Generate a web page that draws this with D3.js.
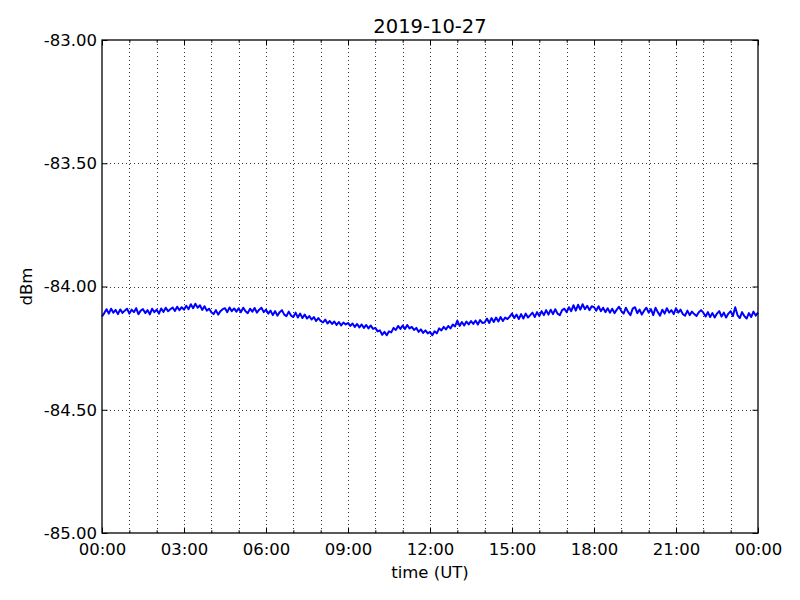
<!DOCTYPE html>
<html><head><meta charset="utf-8">
<script src="https://cdn.jsdelivr.net/npm/d3@7"></script>
<style>body{margin:0;background:#fff}svg{display:block}text{font-family:"DejaVu Sans",sans-serif;fill:#000}</style>
</head><body><div id="chart"></div>
<script>
const title = "2019-10-27";
const xLabel = "time (UT)";
const yLabel = "dBm";
const yTicks = [-85.0, -84.5, -84.0, -83.5, -83.0];
const xTickHours = [0, 3, 6, 9, 12, 15, 18, 21, 24];
const stepMinutes = 5;
// signal level (dBm), one value every 5 minutes (one row per hour)
const values = [
-84.122,-84.108,-84.092,-84.110,-84.090,-84.106,-84.095,-84.112,-84.093,-84.107,-84.098,-84.090,
-84.110,-84.094,-84.104,-84.088,-84.112,-84.098,-84.092,-84.108,-84.096,-84.113,-84.090,-84.104,
-84.094,-84.110,-84.089,-84.103,-84.086,-84.100,-84.092,-84.085,-84.099,-84.082,-84.096,-84.084,
-84.094,-84.078,-84.092,-84.072,-84.088,-84.070,-84.086,-84.076,-84.095,-84.080,-84.098,-84.090,
-84.104,-84.112,-84.096,-84.114,-84.100,-84.092,-84.088,-84.104,-84.085,-84.100,-84.089,-84.102,
-84.088,-84.104,-84.086,-84.100,-84.108,-84.090,-84.102,-84.087,-84.106,-84.094,-84.086,-84.104,
-84.094,-84.110,-84.098,-84.116,-84.100,-84.118,-84.104,-84.096,-84.114,-84.120,-84.102,-84.118,
-84.124,-84.106,-84.126,-84.110,-84.128,-84.114,-84.130,-84.120,-84.134,-84.124,-84.140,-84.128,
-84.140,-84.146,-84.134,-84.150,-84.140,-84.152,-84.142,-84.156,-84.144,-84.158,-84.146,-84.154,
-84.148,-84.160,-84.150,-84.164,-84.152,-84.166,-84.154,-84.168,-84.156,-84.170,-84.158,-84.172,
-84.168,-84.182,-84.178,-84.196,-84.184,-84.198,-84.182,-84.186,-84.168,-84.176,-84.160,-84.172,
-84.158,-84.172,-84.156,-84.170,-84.164,-84.176,-84.168,-84.184,-84.174,-84.188,-84.178,-84.190,
-84.184,-84.198,-84.182,-84.190,-84.170,-84.178,-84.164,-84.174,-84.160,-84.170,-84.154,-84.162,
-84.138,-84.160,-84.144,-84.158,-84.142,-84.154,-84.140,-84.152,-84.138,-84.154,-84.136,-84.148,
-84.146,-84.130,-84.148,-84.128,-84.144,-84.126,-84.142,-84.124,-84.140,-84.126,-84.132,-84.122,
-84.110,-84.128,-84.114,-84.132,-84.112,-84.130,-84.110,-84.126,-84.116,-84.106,-84.124,-84.104,
-84.120,-84.100,-84.116,-84.096,-84.114,-84.094,-84.112,-84.092,-84.110,-84.116,-84.096,-84.090,
-84.104,-84.084,-84.100,-84.076,-84.098,-84.074,-84.094,-84.072,-84.092,-84.078,-84.096,-84.080,
-84.084,-84.098,-84.080,-84.100,-84.086,-84.104,-84.088,-84.106,-84.090,-84.108,-84.094,-84.082,
-84.100,-84.110,-84.086,-84.104,-84.116,-84.090,-84.084,-84.108,-84.094,-84.114,-84.098,-84.086,
-84.106,-84.092,-84.116,-84.086,-84.104,-84.118,-84.094,-84.110,-84.088,-84.106,-84.096,-84.112,
-84.088,-84.106,-84.094,-84.112,-84.118,-84.098,-84.116,-84.102,-84.112,-84.120,-84.104,-84.096,
-84.106,-84.122,-84.104,-84.124,-84.108,-84.126,-84.110,-84.100,-84.122,-84.106,-84.126,-84.110,
-84.100,-84.120,-84.084,-84.116,-84.128,-84.104,-84.120,-84.130,-84.108,-84.124,-84.102,-84.118,
-84.106
];

const W = 800, H = 600;
const m = {left: 102, right: 42, top: 40, bottom: 67};
const iw = W - m.left - m.right, ih = H - m.top - m.bottom;
const t0 = new Date(Date.UTC(2019, 9, 27, 0, 0));
const t1 = new Date(Date.UTC(2019, 9, 28, 0, 0));
const data = values.map((v, i) => ({t: new Date(t0.getTime() + i * stepMinutes * 60000), v}));

const svg = d3.select("#chart").append("svg").attr("width", W).attr("height", H);
const x = d3.scaleUtc().domain([t0, t1]).range([m.left, m.left + iw]);
const y = d3.scaleLinear().domain([-85, -83]).range([m.top + ih, m.top]);
const hourTicks = d3.utcHour.every(1).range(t0, new Date(t1.getTime() + 1));
const majorTicks = xTickHours.map(h => new Date(t0.getTime() + h * 3600000));
const fmtX = d3.utcFormat("%H:%M");

// grid
const g = svg.append("g");
g.selectAll("line.vg").data(hourTicks.slice(1, -1)).join("line")
  .attr("x1", d => Math.round(x(d)) + 0.5).attr("x2", d => Math.round(x(d)) + 0.5)
  .attr("y1", m.top).attr("y2", m.top + ih)
  .attr("stroke", "#000").attr("stroke-width", 0.8).attr("stroke-dasharray", "1,3");
g.selectAll("line.hg").data(yTicks.slice(1, -1)).join("line")
  .attr("x1", m.left).attr("x2", m.left + iw)
  .attr("y1", d => Math.round(y(d)) + 0.5).attr("y2", d => Math.round(y(d)) + 0.5)
  .attr("stroke", "#000").attr("stroke-width", 0.8).attr("stroke-dasharray", "1,3");

// line
svg.append("path").datum(data)
  .attr("fill", "none").attr("stroke", "#0000ff").attr("stroke-width", 2).attr("stroke-linejoin", "round")
  .attr("d", d3.line().x(d => x(d.t)).y(d => y(d.v)));

// axes (ticks inside)
const xb = svg.append("g").attr("transform", `translate(0,${m.top + ih})`)
  .call(d3.axisBottom(x).tickValues(majorTicks).tickFormat(fmtX).tickSizeInner(-5.5).tickSizeOuter(0).tickPadding(10));
const xt = svg.append("g").attr("transform", `translate(0,${m.top})`)
  .call(d3.axisTop(x).tickValues(majorTicks).tickFormat("").tickSizeInner(-5.5).tickSizeOuter(0));
const xbm = svg.append("g").attr("transform", `translate(0,${m.top + ih})`)
  .call(d3.axisBottom(x).tickValues(hourTicks).tickFormat("").tickSizeInner(-2.8).tickSizeOuter(0));
const xtm = svg.append("g").attr("transform", `translate(0,${m.top})`)
  .call(d3.axisTop(x).tickValues(hourTicks).tickFormat("").tickSizeInner(-2.8).tickSizeOuter(0));
const yl = svg.append("g").attr("transform", `translate(${m.left},0)`)
  .call(d3.axisLeft(y).tickValues(yTicks).tickFormat(d3.format(".2f")).tickSizeInner(-5.5).tickSizeOuter(0).tickPadding(5));
const yr = svg.append("g").attr("transform", `translate(${m.left + iw},0)`)
  .call(d3.axisRight(y).tickValues(yTicks).tickFormat("").tickSizeInner(-5.5).tickSizeOuter(0));
[xb, xt, xbm, xtm, yl, yr].forEach(a => {
  a.select(".domain").remove();
  a.selectAll("line").attr("stroke", "#000").attr("stroke-width", 1);
  a.selectAll("text").attr("font-family", "DejaVu Sans").attr("font-size", 16.5).attr("fill", "#000");
});
yl.selectAll("text").text(d => d3.format(".2f")(d).replace("−", "-"));

// frame
svg.append("rect").attr("x", m.left).attr("y", m.top).attr("width", iw).attr("height", ih)
  .attr("fill", "none").attr("stroke", "#000").attr("stroke-width", 1.3);

// labels
svg.append("text").attr("x", m.left + iw / 2).attr("y", 33).attr("text-anchor", "middle")
  .attr("font-size", 19.5).text(title);
svg.append("text").attr("x", m.left + iw / 2).attr("y", 578).attr("text-anchor", "middle")
  .attr("font-size", 16.5).text(xLabel);
svg.append("text").attr("transform", `translate(32,${m.top + ih / 2}) rotate(-90)`).attr("text-anchor", "middle")
  .attr("font-size", 16.5).text(yLabel);
</script></body></html>
